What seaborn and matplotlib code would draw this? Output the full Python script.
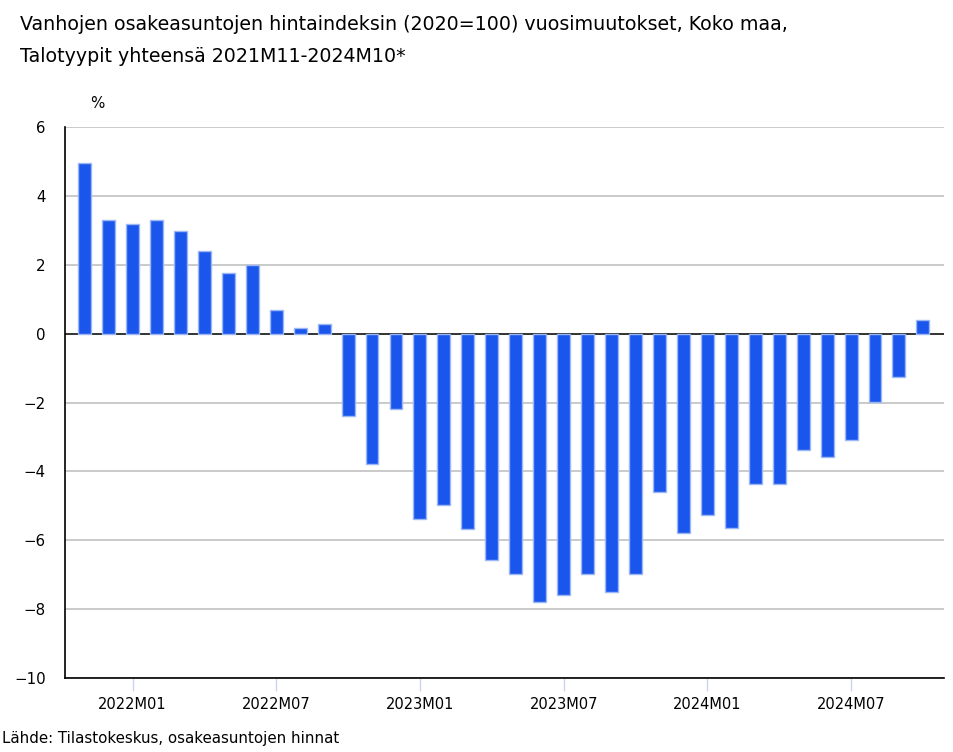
import matplotlib
matplotlib.use("Agg")
import matplotlib.pyplot as plt
import seaborn as sns
import pandas as pd

# Kuukaudet 2021M11 - 2024M10
months = [f"{y}M{m:02d}" for y, m in
          [(2021, 11), (2021, 12)] +
          [(2022, m) for m in range(1, 13)] +
          [(2023, m) for m in range(1, 13)] +
          [(2024, m) for m in range(1, 11)]]

# Vuosimuutos, %
changes = [4.96, 3.29, 3.18, 3.29, 2.97, 2.39, 1.77, 1.99, 0.69, 0.17, 0.29, -2.4,
           -3.79, -2.19, -5.38, -4.98, -5.68, -6.58, -6.98, -7.78, -7.6, -6.98, -7.49, -6.98,
           -4.59, -5.78, -5.27, -5.65, -4.37, -4.37, -3.38, -3.59, -3.09, -1.99, -1.27, 0.39]

tick_labels = ["2022M01", "2022M07", "2023M01", "2023M07", "2024M01", "2024M07"]
y_ticks = [6, 4, 2, 0, -2, -4, -6, -8, -10]

df = pd.DataFrame({"Kuukausi": months, "Muutos": changes})

sns.set_theme(style="white")
plt.rcParams["font.family"] = ["DejaVu Sans"]
plt.rcParams["text.color"] = "black"
plt.rcParams["xtick.labelcolor"] = "black"
plt.rcParams["ytick.labelcolor"] = "black"

fig = plt.figure(figsize=(9.54, 7.52), dpi=100)
ax = fig.add_axes([0.0681, 0.0984, 0.9214, 0.7327])

ax.axhline(0, color="#222222", linewidth=1.3, zorder=1)
sns.barplot(data=df, x="Kuukausi", y="Muutos", color="#1a56eb", saturation=1,
            width=0.54, edgecolor="#9db7f5", linewidth=1, ax=ax, zorder=3)

for v in y_ticks:
    if v != 0:
        ax.axhline(v, color="#bcbcbc", linewidth=1.1, zorder=0)

ax.set_ylim(-10, 6)
ax.set_xlim(-0.82, 35.88)
ax.set_yticks(y_ticks)
ax.set_yticklabels([str(v).replace("-", "\u2212") for v in y_ticks], fontsize=10.8)
ax.set_xticks([months.index(t) for t in tick_labels])
ax.set_xticklabels(tick_labels, fontsize=10.5)
ax.tick_params(axis="x", length=9, color="#ccd6eb", width=1, pad=5, bottom=True)
ax.tick_params(axis="y", length=0, pad=14)
ax.set_xlabel("")
ax.set_ylabel("")

for side in ["top", "right"]:
    ax.spines[side].set_visible(False)
ax.spines["left"].set_color("black")
ax.spines["bottom"].set_color("black")
ax.spines["left"].set_linewidth(1.2)
ax.spines["bottom"].set_linewidth(1.2)

fig.text(20 / 954, 1 - 25 / 752,
         "Vanhojen osakeasuntojen hintaindeksin (2020=100) vuosimuutokset, Koko maa,",
         fontsize=13.7, va="center", ha="left")
fig.text(20 / 954, 1 - 56 / 752, "Talotyypit yhteensä 2021M11-2024M10*",
         fontsize=13.7, va="center", ha="left")
fig.text(97 / 954, 1 - 103 / 752, "%", fontsize=10.8, va="center", ha="center")
fig.text(2 / 954, 1 - 738 / 752, "Lähde: Tilastokeskus, osakeasuntojen hinnat",
         fontsize=10.85, va="center", ha="left")

fig.savefig("out.png", dpi=100)
